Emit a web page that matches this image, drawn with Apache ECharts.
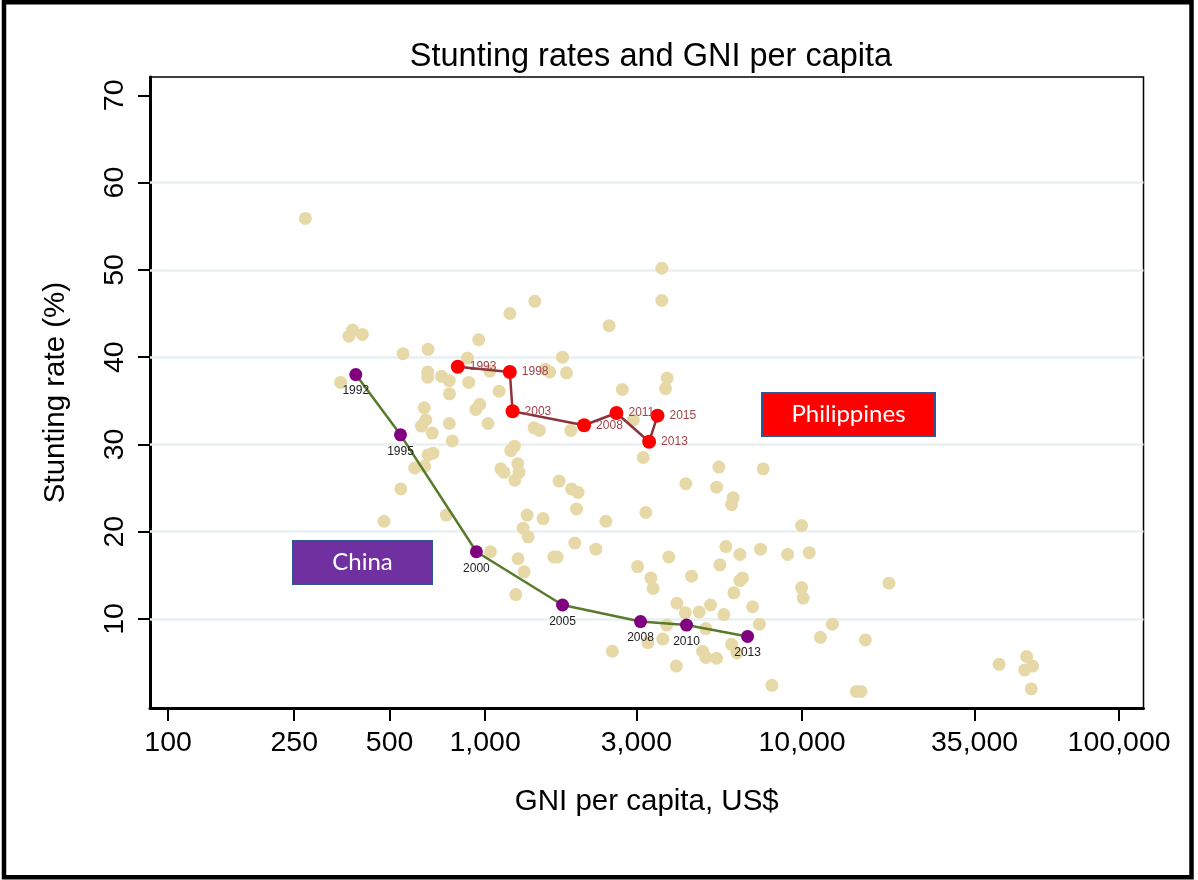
<!DOCTYPE html>
<html><head><meta charset="utf-8">
<script src="https://cdn.jsdelivr.net/npm/echarts@6/dist/echarts.min.js"></script>
<style>html,body{margin:0;padding:0;background:#fff}#c{width:1198px;height:880px}</style>
</head><body><div id="c"></div>
<script>
// ---- data ----
const xTickValues = [100, 250, 500, 1000, 3000, 10000, 35000, 100000];
const yTickValues = [10, 20, 30, 40, 50, 60, 70];
const gridValues = [10, 20, 30, 40, 50, 60];

const otherGNI = [271, 372, 382, 410, 350, 551, 661, 659, 659, 729, 771, 888, 880, 772, 955, 1197, 1435, 1035, 1107, 935,
  962, 643, 650, 630, 681, 771, 788, 1022, 1549, 1600, 1807, 1755, 2462, 3611, 3611, 3752, 3708, 2710, 1427, 1483,
  1864, 2935, 3153, 4298, 1205, 1237, 1268, 1280, 1147, 1241, 1712, 1874, 1966, 1943, 1524, 1357, 1318, 1367, 2404, 3215,
  1919, 2235, 1648, 1688, 1271, 1328, 1250, 1040, 3027, 3798, 3334, 3389, 4026, 2520, 3744, 3636, 3262, 4011, 5465, 7538,
  5373, 6063, 5992, 9963, 5749, 6364, 7396, 9000, 10530, 5503, 4480, 6364, 6489, 6093, 9963, 10080, 5144, 6980, 4735, 5665,
  4282, 7334, 4970, 12460, 11420, 15840, 5992, 6228, 4853, 4970, 5373, 8030, 14840, 15330, 18790, 41840, 51110, 53330, 50400, 52840,
  480, 542, 755, 600, 645, 661, 685, 1121];
const otherStunting = [55.9, 42.4, 43.1, 42.6, 37.1, 40.4, 40.9, 38.3, 37.7, 37.8, 37.3, 37.1, 39.9, 35.8, 42.0, 45.0, 46.4, 38.4, 36.1, 34.0,
  34.6, 34.2, 32.8, 32.1, 31.3, 32.4, 30.4, 32.4, 38.6, 38.3, 38.2, 40.0, 43.6, 50.2, 46.5, 37.6, 36.4, 36.3, 31.9, 31.6,
  31.6, 32.8, 28.5, 25.5, 29.3, 29.8, 27.8, 26.8, 26.8, 25.9, 25.8, 24.9, 24.5, 22.6, 21.5, 21.9, 20.4, 19.4, 21.2, 22.2,
  18.7, 18.0, 17.1, 17.1, 16.9, 15.4, 12.8, 17.7, 16.0, 17.1, 14.7, 13.5, 11.8, 6.3, 9.3, 7.7, 7.3, 4.6, 27.4, 27.2,
  25.1, 23.9, 23.1, 20.7, 18.3, 17.4, 18.0, 17.4, 17.6, 16.2, 14.9, 14.4, 14.7, 13.0, 13.6, 12.4, 11.6, 11.4, 10.8, 10.5,
  10.7, 9.4, 8.9, 9.4, 7.9, 7.6, 7.1, 6.1, 6.3, 5.6, 5.5, 2.4, 1.7, 1.7, 14.1, 4.8, 5.7, 4.6, 4.15, 2.0,
  21.2, 24.9, 21.9, 27.3, 27.5, 28.8, 29.0, 27.2];

const chinaYears = [1992, 1995, 2000, 2005, 2008, 2010, 2013];
const chinaGNI = [391, 541, 939, 1755, 3093, 4320, 6730];
const chinaStunting = [38.0, 31.1, 17.7, 11.6, 9.7, 9.3, 8.0];

const philYears = [1993, 1998, 2003, 2008, 2011, 2013, 2015];
const philGNI = [820, 1197, 1221, 2053, 2597, 3292, 3499];
const philStunting = [38.9, 38.3, 33.8, 32.2, 33.6, 30.3, 33.3];

// ---- chart ----
const FONT = 'Liberation Sans, Arial, sans-serif';
const fmt = v => String(Math.round(v)).replace(/\B(?=(\d{3})+(?!\d))/g, ',');
const chart = echarts.init(document.getElementById('c'), null, {renderer: 'canvas'});

function labelBox(x, y, w, h, fill, text) {
  return {
    type: 'group', z: 50,
    children: [
      {type: 'rect', shape: {x: x, y: y, width: w, height: h},
        style: {fill: fill, stroke: '#2F5597', lineWidth: 2}},
      {type: 'text', x: x + w / 2, y: y + h / 2,
        style: {text: text, fill: '#fff', font: '24px Lato, sans-serif',
          align: 'center', verticalAlign: 'middle', textAlign: 'center', textVerticalAlign: 'middle'}}
    ]
  };
}

chart.setOption({
  animation: false,
  backgroundColor: '#fff',
  title: {
    text: 'Stunting rates and GNI per capita',
    left: 646, top: 36, textAlign: 'center',
    textStyle: {fontFamily: FONT, fontSize: 32.5, fontWeight: 'normal', color: '#000'}
  },
  grid: {left: 150, top: 77, right: 54.5, bottom: 172, show: true, borderColor: '#000', borderWidth: 1.5,
    containLabel: false, outerBoundsMode: 'none'},
  xAxis: {
    type: 'log', logBase: 10, min: 87.7, max: 119400,
    axisLine: {show: true, onZero: false, lineStyle: {color: '#000', width: 3}},
    axisTick: {show: true, length: 13, lineStyle: {color: '#000', width: 2}, customValues: xTickValues},
    axisLabel: {customValues: xTickValues, formatter: fmt, fontSize: 28.5, color: '#000', fontFamily: FONT, margin: 21},
    splitLine: {show: false}, minorTick: {show: false}, minorSplitLine: {show: false},
    name: 'GNI per capita, US$', nameLocation: 'middle', nameGap: 79,
    nameTextStyle: {fontFamily: FONT, fontSize: 29.5, color: '#000'}
  },
  yAxis: {
    type: 'value', min: -0.2, max: 72.1,
    axisLine: {show: true, onZero: false, lineStyle: {color: '#000', width: 3}},
    axisTick: {show: true, length: 12, lineStyle: {color: '#000', width: 2}, customValues: yTickValues},
    axisLabel: {customValues: yTickValues, rotate: 90, fontSize: 28.5, color: '#000', fontFamily: FONT, margin: 20},
    splitLine: {show: false},
    name: 'Stunting rate (%)', nameLocation: 'middle', nameRotate: 90, nameGap: 79,
    nameTextStyle: {fontFamily: FONT, fontSize: 29.5, color: '#000'}
  },
  series: [
    {
      type: 'line', data: [], silent: true, z: 0,
      markLine: {
        z: 1, silent: true, symbol: ['none', 'none'], label: {show: false},
        lineStyle: {color: '#E8F0F2', width: 2.5, type: 'solid'},
        emphasis: {disabled: true},
        data: gridValues.map(v => ({yAxis: v}))
      }
    },
    {
      type: 'scatter', z: 2, symbolSize: 13,
      itemStyle: {color: '#E6D9A7', opacity: 1},
      data: otherGNI.map((g, i) => [g, otherStunting[i]])
    },
    {
      type: 'line', z: 4, symbol: 'circle', symbolSize: 13,
      lineStyle: {color: '#587A2A', width: 2.5},
      itemStyle: {color: '#800080'},
      label: {show: true, position: 'bottom', distance: 4, fontSize: 12, color: '#222', fontFamily: FONT,
        formatter: p => chinaYears[p.dataIndex]},
      data: chinaGNI.map((g, i) => [g, chinaStunting[i]])
    },
    {
      type: 'line', z: 5, symbol: 'circle', symbolSize: 14,
      lineStyle: {color: '#8C3339', width: 2.5},
      itemStyle: {color: '#FF0000'},
      label: {show: true, position: 'right', distance: 5, fontSize: 12, color: '#A0434B', fontFamily: FONT,
        formatter: p => philYears[p.dataIndex]},
      data: philGNI.map((g, i) => [g, philStunting[i]])
    }
  ],
  graphic: [
    {
      type: 'rect', z: 100,
      shape: {x: 4, y: 2.25, width: 1187.5, height: 875},
      style: {fill: 'none', stroke: '#000', lineWidth: 4.5}
    },
    labelBox(293, 541, 139, 43, '#7030A0', 'China'),
    labelBox(762, 393, 173, 43, '#FF0000', 'Philippines')
  ]
});
</script>
</body></html>
